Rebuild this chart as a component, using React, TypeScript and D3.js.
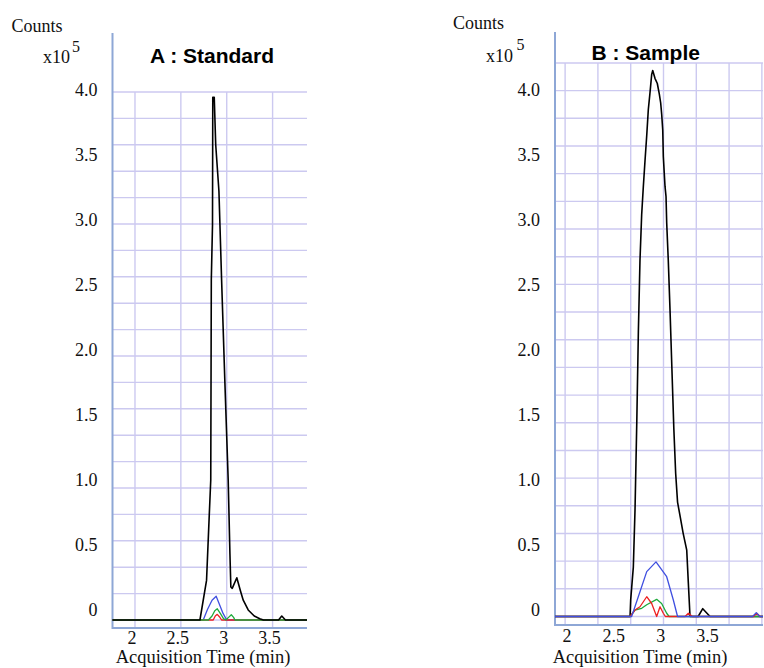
import React from "react";
import * as d3 from "d3";

// ---------- shared tick labels ----------
const yTickValues = [0, 0.5, 1.0, 1.5, 2.0, 2.5, 3.0, 3.5, 4.0];
const yTickLabels = ["0", "0.5", "1.0", "1.5", "2.0", "2.5", "3.0", "3.5", "4.0"];
const xTickValues = [2, 2.5, 3, 3.5];
const xTickLabels = ["2", "2.5", "3", "3.5"];

// ---------- Panel A : Standard  (time min, counts x10^5) ----------
const standardBlack: [number, number][] = [
  [1.755, 0], [2.708, 0], [2.78, 0.3], [2.81, 0.8], [2.826, 1.06], [2.832, 2.58],
  [2.845, 2.99], [2.848, 3.96], [2.864, 3.96], [2.88, 3.6], [2.915, 3.25],
  [2.944, 2.58], [2.98, 1.8], [3.016, 1.06], [3.035, 0.5], [3.045, 0.25],
  [3.06, 0.24], [3.11, 0.32], [3.15, 0.22], [3.18, 0.15], [3.234, 0.076],
  [3.3, 0.03], [3.36, 0.01], [3.4, 0], [3.565, 0], [3.6, 0.03], [3.64, 0], [3.875, 0],
];
const standardBlue: [number, number][] = [
  [1.755, 0], [2.744, 0], [2.79, 0.08], [2.84, 0.15], [2.885, 0.18], [2.92, 0.12],
  [2.96, 0.05], [3.0, 0], [3.875, 0],
];
const standardGreen: [number, number][] = [
  [1.755, 0], [2.8, 0], [2.84, 0.03], [2.87, 0.07], [2.897, 0.085], [2.93, 0.05],
  [2.965, 0.01], [2.99, 0], [3.02, 0.02], [3.05, 0.04], [3.075, 0.02], [3.09, 0], [3.875, 0],
];
const standardRed: [number, number][] = [
  [1.755, 0], [2.853, 0], [2.875, 0.03], [2.897, 0.043], [2.92, 0.025], [2.944, 0], [3.875, 0],
];

// ---------- Panel B : Sample ----------
const sampleBlack: [number, number][] = [
  [1.872, 0], [2.673, 0], [2.68, 0.13], [2.708, 0.38], [2.726, 0.82], [2.745, 1.5],
  [2.762, 2.2], [2.779, 2.74], [2.797, 3.09], [2.815, 3.31], [2.833, 3.51],
  [2.851, 3.7], [2.868, 3.9], [2.886, 4.03], [2.904, 4.17], [2.915, 4.2],
  [2.939, 4.14], [2.964, 4.1], [2.985, 4.02], [3.0, 3.95], [3.011, 3.86],
  [3.022, 3.74], [3.028, 3.54], [3.046, 3.31], [3.057, 3.23], [3.064, 3.03],
  [3.081, 2.74], [3.1, 2.35], [3.12, 1.9], [3.14, 1.45], [3.16, 1.1], [3.18, 0.88],
  [3.21, 0.76], [3.24, 0.64], [3.278, 0.51], [3.295, 0.26], [3.313, 0], [3.4, 0],
  [3.449, 0.06], [3.527, 0], [4.092, 0],
];
const sampleGreen: [number, number][] = [
  [1.872, 0], [2.673, 0], [2.726, 0.05], [2.797, 0.063], [2.851, 0.09], [2.957, 0.132],
  [3.01, 0.1], [3.064, 0.025], [3.09, 0], [4.092, 0],
];
const sampleRed: [number, number][] = [
  [1.872, 0], [2.673, 0], [2.726, 0.05], [2.779, 0.075], [2.851, 0.152], [2.904, 0.1],
  [2.957, 0], [2.993, 0.075], [3.028, 0.025], [3.05, 0], [3.26, 0], [3.295, 0.025],
  [3.34, 0], [3.99, 0], [4.025, 0.025], [4.06, 0], [4.092, 0],
];
const sampleBlue: [number, number][] = [
  [1.872, 0], [2.69, 0], [2.761, 0.152], [2.851, 0.345], [2.95, 0.42], [3.064, 0.306],
  [3.135, 0.127], [3.18, 0], [3.98, 0], [4.02, 0.03], [4.06, 0], [4.092, 0],
];

const GRID = "#ccc9f0";
const AXIS = "#8ea7d6";
const SERIF = "'Liberation Serif', 'Times New Roman', serif";
const SANS = "'Liberation Sans', Arial, sans-serif";

type Series = { data: [number, number][]; color: string; width: number };

type PanelCfg = {
  title: string;
  titleX: number;
  titleY: number;
  left: number;
  right: number;
  xDomain: [number, number];
  zeroY: number;
  pxPerUnit: number;
  gridY: number[];
  gridX: number[];
  axisTop: number;
  axisBottom: number;
  yLabelRight: number;
  xLabelShift: number;
  xLabelY: number;
  countsX: number;
  countsY: number;
  x10X: number;
  x10Y: number;
  supX: number;
  supY: number;
  xTitleX: number;
  xTitleY: number;
  series: Series[];
};

// tick-label placement scale (text centres), shared by both panels
const labelScale = d3.scaleLinear().domain([0, 4]).range([610, 90]);

function Panel({ c }: { c: PanelCfg }) {
  const x = d3.scaleLinear().domain(c.xDomain).range([c.left, c.right]);
  const y = d3
    .scaleLinear()
    .domain([0, 1])
    .range([c.zeroY, c.zeroY - c.pxPerUnit]);
  const gridTopY = y(d3.max(c.gridY) as number);
  const line = d3
    .line<[number, number]>()
    .x((d) => x(d[0]))
    .y((d) => y(d[1]));
  return (
    <g>
      {c.gridY.map((g, i) => (
        <line key={"gy" + i} x1={c.left} x2={c.right} y1={y(g)} y2={y(g)} stroke={GRID} strokeWidth={1.4} />
      ))}
      {c.gridX.map((g, i) => (
        <line key={"gx" + i} x1={x(g)} x2={x(g)} y1={gridTopY} y2={c.axisBottom} stroke={GRID} strokeWidth={1.4} />
      ))}
      <line x1={c.left} x2={c.left} y1={c.axisTop} y2={c.axisBottom + 1} stroke={AXIS} strokeWidth={2} />
      <line x1={c.left} x2={c.right} y1={c.axisBottom} y2={c.axisBottom} stroke={AXIS} strokeWidth={2} />
      {c.series.map((s, i) => (
        <path key={"s" + i} d={line(s.data) || ""} fill="none" stroke={s.color} strokeWidth={s.width} strokeLinejoin="round" />
      ))}
      {yTickValues.map((v, i) => (
        <text key={"yt" + i} x={c.yLabelRight} y={labelScale(v) + 6} textAnchor="end" fontFamily={SERIF} fontSize={18} fill="#111">
          {yTickLabels[i]}
        </text>
      ))}
      {xTickValues.map((v, i) => (
        <text key={"xt" + i} x={x(v) + c.xLabelShift} y={c.xLabelY} textAnchor="middle" fontFamily={SERIF} fontSize={18} fill="#111">
          {xTickLabels[i]}
        </text>
      ))}
      <text x={c.countsX} y={c.countsY} fontFamily={SERIF} fontSize={18} fill="#111">Counts</text>
      <text x={c.x10X} y={c.x10Y} fontFamily={SERIF} fontSize={18} fill="#111">x10</text>
      <text x={c.supX} y={c.supY} fontFamily={SERIF} fontSize={16} fill="#111">5</text>
      <text x={c.titleX} y={c.titleY} textAnchor="middle" fontFamily={SANS} fontWeight="bold" fontSize={21} fill="#000">
        {c.title}
      </text>
      <text x={c.xTitleX} y={c.xTitleY} textAnchor="middle" fontFamily={SERIF} fontSize={18.5} fill="#111">
        Acquisition Time (min)
      </text>
    </g>
  );
}

const panelA: PanelCfg = {
  title: "A : Standard",
  titleX: 212,
  titleY: 62.5,
  left: 112.5,
  right: 307,
  xDomain: [1.755, 3.875],
  zeroY: 620,
  pxPerUnit: 132,
  gridY: d3.range(0, 21).map((k) => k * 0.2),
  gridX: [2, 2.5, 3, 3.5],
  axisTop: 33,
  axisBottom: 628,
  yLabelRight: 97.5,
  xLabelShift: -3,
  xLabelY: 644,
  countsX: 11.5,
  countsY: 31.5,
  x10X: 43,
  x10Y: 63,
  supX: 72,
  supY: 52,
  xTitleX: 203,
  xTitleY: 663,
  series: [
    { data: standardBlue, color: "#3f4fe0", width: 1.3 },
    { data: standardRed, color: "#ee2020", width: 1.3 },
    { data: standardGreen, color: "#1faa3c", width: 1.3 },
    { data: standardBlack, color: "#000", width: 1.6 },
  ],
};

const panelB: PanelCfg = {
  title: "B : Sample",
  titleX: 645.7,
  titleY: 60,
  left: 555,
  right: 763,
  xDomain: [1.872, 4.092],
  zeroY: 616.5,
  pxPerUnit: 130,
  gridY: d3.range(0, 21).map((k) => k * 0.2129),
  gridX: d3.range(0, 7).map((k) => 1.98 + k * 0.35),
  axisTop: 32,
  axisBottom: 625,
  yLabelRight: 540,
  xLabelShift: 0,
  xLabelY: 642,
  countsX: 453,
  countsY: 29.3,
  x10X: 486,
  x10Y: 61.7,
  supX: 516.5,
  supY: 50,
  xTitleX: 640,
  xTitleY: 663,
  series: [
    { data: sampleBlack, color: "#000", width: 1.6 },
    { data: sampleGreen, color: "#1faa3c", width: 1.3 },
    { data: sampleRed, color: "#ee2020", width: 1.3 },
    { data: sampleBlue, color: "#3f4fe0", width: 1.3 },
  ],
};

export default function App() {
  return (
    <svg
      width={764}
      height={668}
      viewBox="0 0 764 668"
      style={{ position: "absolute", left: 0, top: 0, background: "#fff" }}
    >
      <rect width={764} height={668} fill="#fff" />
      <Panel c={panelA} />
      <Panel c={panelB} />
    </svg>
  );
}
